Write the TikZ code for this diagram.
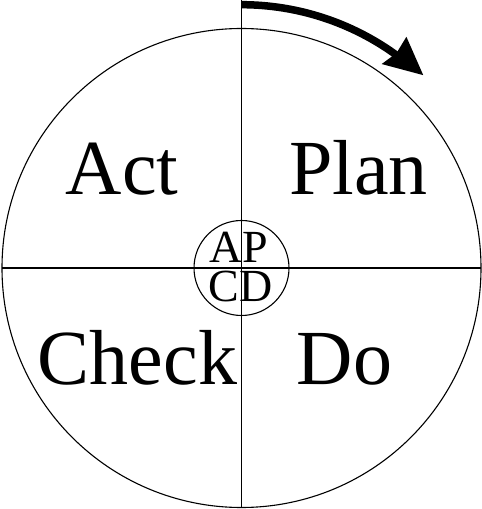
\documentclass[tikz,border=0pt]{standalone}
\usepackage{fontspec}
\setmainfont{Liberation Serif}
\begin{document}
\begin{tikzpicture}[x=1pt,y=1pt,
  bigtxt/.style={anchor=base,inner sep=0pt,font=\fontsize{78}{78}\selectfont},
  smalltxt/.style={anchor=base,inner sep=0pt,text height=31pt,text depth=0pt,font=\fontsize{46}{46}\selectfont},
  thinline/.style={line width=1.1pt}]
\useasboundingbox (0,0) rectangle (482,509);
\coordinate (c) at (241.5,241);
\coordinate (top) at (241.5,509);
\coordinate (bot) at (241.5,1.5);
\coordinate (left) at (2,241);
\coordinate (right) at (481,241);
\node[circle,draw,thinline,minimum size=479pt,inner sep=0pt] (big) at (c) {};
\draw[thinline] (top) -- (bot);
\draw[thinline] (left) -- (right);
\node[circle,draw,thinline,fill=white,minimum size=95pt,inner sep=0pt] (small) at (c) {};
\draw[thinline] (small.north) -- (small.south);
\draw[thinline] (small.west) -- (small.east);
% arrow
\draw[line width=7.5pt] ([shift={(c)}]90:263.3) arc (90:54:263.3);
\fill ([shift={(c)}]55.5:247.5) -- ([shift={(c)}]46.7:265) -- ([shift={(c)}]54.5:284) -- ([shift={(c)}]54.2:265) -- cycle;
% labels
\node[bigtxt] (act) at (122,314) {Act};
\node[bigtxt] (plan) at (358.5,314) {Plan};
\node[bigtxt] (check) at (137.5,124) {Check};
\node[bigtxt] (do) at (344.5,124) {Do};
\node[smalltxt] (ap) at (239,246) {AP};
\node[smalltxt] (cd) at (240.5,207) {CD};
\end{tikzpicture}
\end{document}
